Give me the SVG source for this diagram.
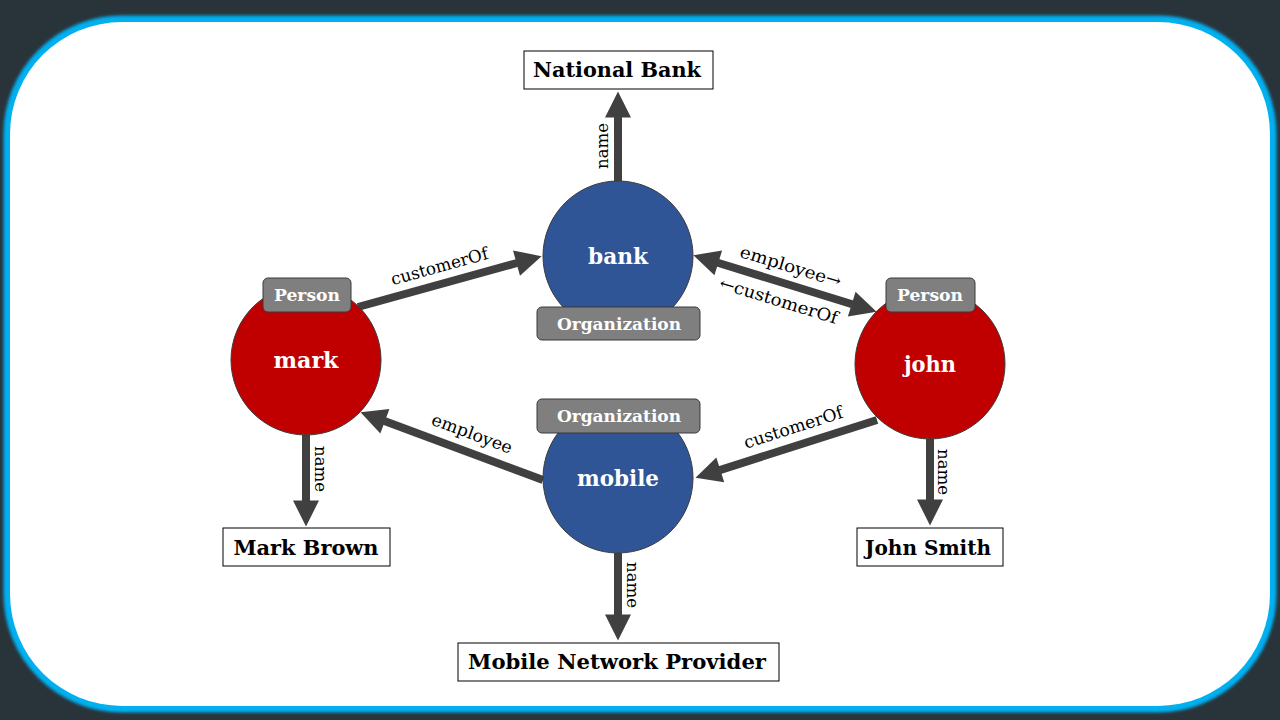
<svg xmlns="http://www.w3.org/2000/svg" width="1280" height="720" viewBox="0 0 1280 720">
<defs>
<style>
.bg{fill:#29333a}
.person circle{fill:#c00000;stroke:#3a3a3a;stroke-width:1}
.org circle{fill:#2f5597;stroke:#3a3a3a;stroke-width:1}
.tag{fill:#7f7f7f;stroke:#3a3a3a;stroke-width:1}
.tagtxt{font-family:"DejaVu Serif","Liberation Serif",serif;font-weight:bold;font-size:16px;fill:#ffffff;text-anchor:middle}
.ntxt{font-family:"DejaVu Serif","Liberation Serif",serif;font-weight:bold;font-size:22px;fill:#ffffff;text-anchor:middle}
.box rect{fill:#ffffff;stroke:#000000;stroke-width:1}
.btxt{font-family:"DejaVu Serif","Liberation Serif",serif;font-weight:bold;font-size:21px;fill:#000000;text-anchor:middle}
.edge{stroke:#404040;stroke-width:8;fill:none;marker-end:url(#ah)}
.etxt{font-family:"DejaVu Serif","Liberation Serif",serif;font-size:17px;fill:#000000;text-anchor:middle}
</style>
<marker id="ah" markerUnits="userSpaceOnUse" markerWidth="28" markerHeight="28" viewBox="0 -14 28 28" refX="0.5" refY="0" orient="auto" overflow="visible">
<path d="M0,-13 L26,0 L0,13 Z" fill="#404040"/>
</marker>
<marker id="ahs" markerUnits="userSpaceOnUse" markerWidth="28" markerHeight="28" viewBox="0 -14 28 28" refX="0.5" refY="0" orient="auto-start-reverse" overflow="visible">
<path d="M0,-13 L26,0 L0,13 Z" fill="#404040"/>
</marker>
<filter id="glow" x="-5%" y="-5%" width="110%" height="110%">
<feGaussianBlur stdDeviation="1.8"/>
</filter>
</defs>
<rect class="bg" x="0" y="0" width="1280" height="720"/>
<g id="panel">
<rect x="10" y="22" width="1260" height="684" rx="112" ry="112" fill="none" stroke="#00b0f0" stroke-width="13" filter="url(#glow)"/>
<rect x="10" y="22" width="1260" height="684" rx="112" ry="112" fill="#ffffff"/>
</g>
<g id="connectors">
<line class="edge" x1="618" y1="181" x2="618" y2="117"/>
<line class="edge" x1="306" y1="435" x2="306" y2="501"/>
<line class="edge" x1="930" y1="439" x2="930" y2="500"/>
<line class="edge" x1="618" y1="553" x2="618" y2="615"/>
<line class="edge" x1="358" y1="307" x2="517" y2="263"/>
<line class="edge" x1="543" y1="480" x2="384.4" y2="421.1"/>
<line class="edge" x1="877" y1="420" x2="719.8" y2="470.1"/>
<line class="edge" x1="717.8" y1="262.7" x2="852.2" y2="304.3" style="marker-start:url(#ahs)"/>
<text class="etxt" transform="translate(608,146) rotate(-90)" textLength="46" lengthAdjust="spacingAndGlyphs">name</text>
<text class="etxt" transform="translate(315,469) rotate(90)" textLength="46" lengthAdjust="spacingAndGlyphs">name</text>
<text class="etxt" transform="translate(938,472) rotate(90)" textLength="46" lengthAdjust="spacingAndGlyphs">name</text>
<text class="etxt" transform="translate(627,585) rotate(90)" textLength="46" lengthAdjust="spacingAndGlyphs">name</text>
<text class="etxt" transform="translate(441,272) rotate(-15.5)" textLength="100" lengthAdjust="spacingAndGlyphs">customerOf</text>
<text class="etxt" transform="translate(470,439) rotate(20.4)" textLength="85" lengthAdjust="spacingAndGlyphs">employee</text>
<text class="etxt" transform="translate(795,433) rotate(-17.7)" textLength="103" lengthAdjust="spacingAndGlyphs">customerOf</text>
<text class="etxt" transform="translate(789,272) rotate(17)" textLength="105" lengthAdjust="spacingAndGlyphs">employee→</text>
<text class="etxt" transform="translate(777,306) rotate(17)" textLength="123" lengthAdjust="spacingAndGlyphs">←customerOf</text>
</g>
<g id="bank" class="org">
<circle cx="618" cy="256" r="75"/>
<text class="ntxt" x="618" y="264" textLength="60" lengthAdjust="spacingAndGlyphs">bank</text>
<rect class="tag" x="537" y="307" width="163" height="33" rx="5"/>
<text class="tagtxt" x="619" y="330" textLength="124" lengthAdjust="spacingAndGlyphs">Organization</text>
</g>
<g id="mobile" class="org">
<circle cx="618" cy="478" r="75"/>
<text class="ntxt" x="618" y="486" textLength="82" lengthAdjust="spacingAndGlyphs">mobile</text>
<rect class="tag" x="537" y="399" width="163" height="34" rx="5"/>
<text class="tagtxt" x="619" y="422" textLength="124" lengthAdjust="spacingAndGlyphs">Organization</text>
</g>
<g id="mark" class="person">
<circle cx="306" cy="360" r="75"/>
<text class="ntxt" x="306" y="368" textLength="65" lengthAdjust="spacingAndGlyphs">mark</text>
<rect class="tag" x="263" y="278" width="88" height="34" rx="5"/>
<text class="tagtxt" x="307" y="301" textLength="66" lengthAdjust="spacingAndGlyphs">Person</text>
</g>
<g id="john" class="person">
<circle cx="930" cy="364" r="75"/>
<text class="ntxt" x="930" y="372" textLength="52" lengthAdjust="spacingAndGlyphs">john</text>
<rect class="tag" x="886" y="278" width="89" height="34" rx="5"/>
<text class="tagtxt" x="930" y="301" textLength="66" lengthAdjust="spacingAndGlyphs">Person</text>
</g>
<g id="nationalBank" class="box">
<rect x="524" y="51" width="189" height="38"/>
<text class="btxt" x="617" y="77" textLength="168" lengthAdjust="spacingAndGlyphs">National Bank</text>
</g>
<g id="markBrown" class="box">
<rect x="223" y="528" width="167" height="38"/>
<text class="btxt" x="306" y="555" textLength="145" lengthAdjust="spacingAndGlyphs">Mark Brown</text>
</g>
<g id="johnSmith" class="box">
<rect x="857" y="528" width="146" height="38"/>
<text class="btxt" x="928" y="555" textLength="126" lengthAdjust="spacingAndGlyphs">John Smith</text>
</g>
<g id="mobileNetworkProvider" class="box">
<rect x="458" y="643" width="321" height="38"/>
<text class="btxt" x="617" y="669" textLength="298" lengthAdjust="spacingAndGlyphs">Mobile Network Provider</text>
</g>
</svg>
